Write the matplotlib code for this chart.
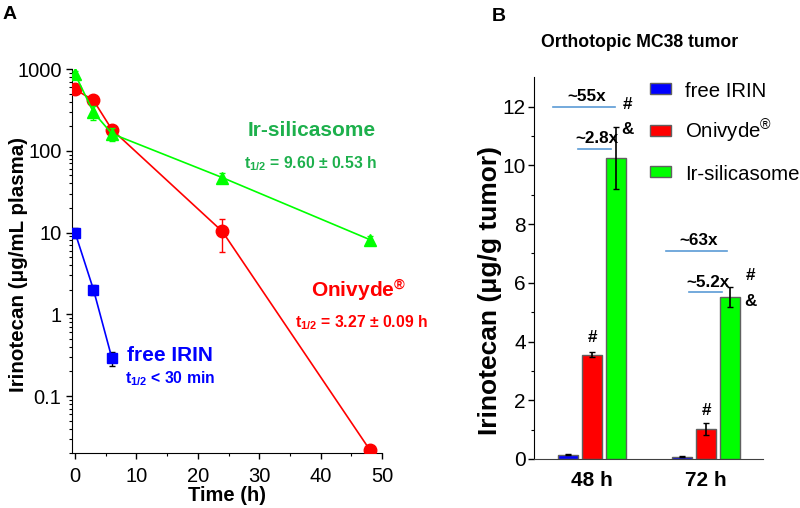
import matplotlib
matplotlib.use("Agg")
import matplotlib.pyplot as plt
import matplotlib.patches as mpatches
from matplotlib.legend_handler import HandlerPatch
from matplotlib.container import BarContainer
import numpy as np

plt.rcParams['font.family'] = ['Liberation Sans', 'DejaVu Sans']
plt.rcParams['mathtext.fontset'] = 'custom'
plt.rcParams['mathtext.rm'] = 'Liberation Sans'
plt.rcParams['mathtext.bf'] = 'Liberation Sans:bold'
plt.rcParams['mathtext.it'] = 'Liberation Sans:italic'

# ---------------- Panel A data ----------------
time_free = [0, 3, 6]
conc_free = [10.0, 2.0, 0.29]
err_free = [1.5, 0.3, 0.06]

time_oni = [0, 3, 6, 24, 48]
conc_oni = [566, 414, 182, 10.3, 0.022]
err_oni = [60, 40, 20, 4.5, 0.002]

time_ir = [0, 3, 6, 24, 48]
conc_ir = [867, 295, 162, 47, 8.2]
err_ir = [80, 60, 30, 6, 1.0]

# ---------------- Panel B data ----------------
groups = ['48 h', '72 h']
series_names = ['free IRIN', r'Onivyde$^{®}$', 'Ir-silicasome']
vals_free = [0.15, 0.08]
vals_oni = [3.55, 1.02]
vals_ir = [10.25, 5.50]
errs_free = [0.02, 0.02]
errs_oni = [0.08, 0.22]
errs_ir = [1.07, 0.34]

fold_labels = ['~55x', '~2.8x', '~63x', '~5.2x']
fold_x0 = [-0.34, -0.12, 0.65, 0.85]
fold_x1 = [0.20, 0.17, 1.18, 1.14]
fold_y = [12.0, 10.55, 7.07, 5.67]

BLUE = '#0000FF'
RED = '#FF0000'
GREEN = '#00FF00'
GREEN_TXT = '#1DB04C'

fig = plt.figure(figsize=(8, 5.08), dpi=100)

# ===== Panel A =====
axA = fig.add_axes([0.09, 0.108, 0.3875, 0.756])
axA.errorbar(time_free, conc_free, yerr=err_free, color=BLUE, marker='s', ms=7,
             lw=1.2, ecolor='black', elinewidth=1, capsize=2, zorder=3)
axA.errorbar(time_oni, conc_oni, yerr=err_oni, color=RED, marker='o', ms=9,
             lw=1.2, ecolor=RED, elinewidth=1, capsize=2, zorder=3)
axA.errorbar(time_ir, conc_ir, yerr=err_ir, color=GREEN, marker='^', ms=8,
             lw=1.2, ecolor=GREEN, elinewidth=1, capsize=2, zorder=4)
axA.set_yscale('log')
axA.set_ylim(0.02, 1000)
axA.set_xlim(-0.5, 50)
axA.set_xticks([0, 10, 20, 30, 40, 50])
axA.set_xticks([5, 15, 25, 35, 45], minor=True)
axA.set_yticks([0.1, 1, 10, 100, 1000])
axA.set_yticklabels(['0.1', '1', '10', '100', '1000'])
for s in ['top', 'right']:
    axA.spines[s].set_visible(False)
axA.tick_params(axis='both', labelsize=14.5, length=4, width=1)
axA.tick_params(axis='x', pad=6)
axA.tick_params(axis='y', pad=3.5)
axA.tick_params(axis='both', which='minor', length=2.5, width=0.8)
axA.set_xlabel('Time (h)', fontsize=14.5, fontweight='bold', labelpad=0)
axA.set_ylabel('Irinotecan (μg/mL plasma)', fontsize=14.8, fontweight='bold')
axA.yaxis.set_label_coords(-0.142, 0.49)

axA.text(0.774, 0.841, 'Ir-silicasome', transform=axA.transAxes, ha='center', va='center',
         fontsize=15, fontweight='bold', color=GREEN_TXT)
axA.text(0.768, 0.755, r'$\mathbf{t}_{\mathbf{1/2}}$ = 9.60 ± 0.53 h', transform=axA.transAxes,
         ha='center', va='center', fontsize=11.3, fontweight='bold', color=GREEN_TXT)
axA.text(0.925, 0.422, r'$\mathbf{Onivyde}^{\mathbf{®}}$', transform=axA.transAxes, ha='center',
         va='center', fontsize=15, color=RED)
axA.text(0.935, 0.339, r'$\mathbf{t}_{\mathbf{1/2}}$ = 3.27 ± 0.09 h', transform=axA.transAxes,
         ha='center', va='center', fontsize=11.3, fontweight='bold', color=RED)
axA.text(0.316, 0.255, 'free IRIN', transform=axA.transAxes, ha='center', va='center',
         fontsize=15, fontweight='bold', color=BLUE)
axA.text(0.316, 0.195, r'$\mathbf{t}_{\mathbf{1/2}}$ < 30 min', transform=axA.transAxes,
         ha='center', va='center', fontsize=11.3, fontweight='bold', color=BLUE)
fig.text(0.012, 0.972, 'A', fontsize=14, fontweight='bold', ha='center', va='center')

# ===== Panel B =====
axB = fig.add_axes([0.6675, 0.0965, 0.2863, 0.7515])
x = np.arange(len(groups))
w = 0.175
off = 0.21
ek = dict(elinewidth=1.2, capsize=2, ecolor='black')
axB.bar(x - off, vals_free, w, yerr=errs_free, color=BLUE, edgecolor='#606060', lw=1,
        error_kw=ek, label=series_names[0])
axB.bar(x, vals_oni, w, yerr=errs_oni, color=RED, edgecolor='#606060', lw=1,
        error_kw=ek, label=series_names[1])
axB.bar(x + off, vals_ir, w, yerr=errs_ir, color=GREEN, edgecolor='#606060', lw=1,
        error_kw=ek, label=series_names[2])
axB.set_xlim(-0.51, 1.5)
axB.set_ylim(0, 13)
axB.set_yticks([0, 2, 4, 6, 8, 10, 12])
axB.set_yticks([1, 3, 5, 7, 9, 11], minor=True)
axB.set_xticks(x)
axB.set_xticklabels(groups, fontsize=15, fontweight='bold')
axB.tick_params(axis='x', length=0, pad=9)
axB.tick_params(axis='y', labelsize=15, length=4, width=1, pad=2)
axB.tick_params(axis='y', which='minor', length=2.5, width=0.8)
for s in ['top', 'right']:
    axB.spines[s].set_visible(False)
axB.spines['bottom'].set_color('#404040')
axB.set_ylabel('Irinotecan (μg/g tumor)', fontsize=19, fontweight='bold')
axB.yaxis.set_label_coords(-0.14, 0.442)

for lab, a, b, yv in zip(fold_labels, fold_x0, fold_x1, fold_y):
    axB.plot([a, b], [yv, yv], color='#5B9BD5', lw=1.2)
    axB.text((a + b) / 2 + 0.02, yv + 0.1, lab, ha='center', va='bottom',
             fontsize=12.3, fontweight='bold')
# significance marks
mk = dict(ha='center', va='center', fontsize=12.3, fontweight='bold')
axB.text(x[0] + off + 0.1, 12.08, '#', **mk)
axB.text(x[0] + off + 0.1, 11.23, '&', **mk)
axB.text(x[1] + off + 0.18, 6.25, '#', **mk)
axB.text(x[1] + off + 0.18, 5.36, '&', **mk)
axB.text(x[0], vals_oni[0] + 0.58, '#', **mk)
axB.text(x[1], vals_oni[1] + 0.62, '#', **mk)


def make_rect(legend, orig_handle, xdescent, ydescent, width, height, fontsize):
    p = orig_handle.patches[0]
    h = 0.55 * fontsize
    return mpatches.Rectangle((-xdescent, -ydescent + (height - h) / 2 + 0.1 * fontsize),
                              width, h, facecolor=p.get_facecolor(),
                              edgecolor=p.get_edgecolor(), lw=1)


axB.legend(loc='upper left', bbox_to_anchor=(650 / 800, 1 - 75 / 508),
           bbox_transform=fig.transFigure, frameon=False, fontsize=14.7,
           handlelength=1.05, handleheight=2.0, handletextpad=0.68, labelspacing=0.49,
           borderpad=0, borderaxespad=0,
           handler_map={BarContainer: HandlerPatch(patch_func=make_rect,
                                                   update_func=lambda h, o: None)})

fig.text(0.80, 0.917, 'Orthotopic MC38 tumor', ha='center', va='center', fontsize=12.7,
         fontweight='bold')
fig.text(0.624, 0.967, 'B', fontsize=14, fontweight='bold', ha='center', va='center')

fig.savefig('out.png', dpi=100)
